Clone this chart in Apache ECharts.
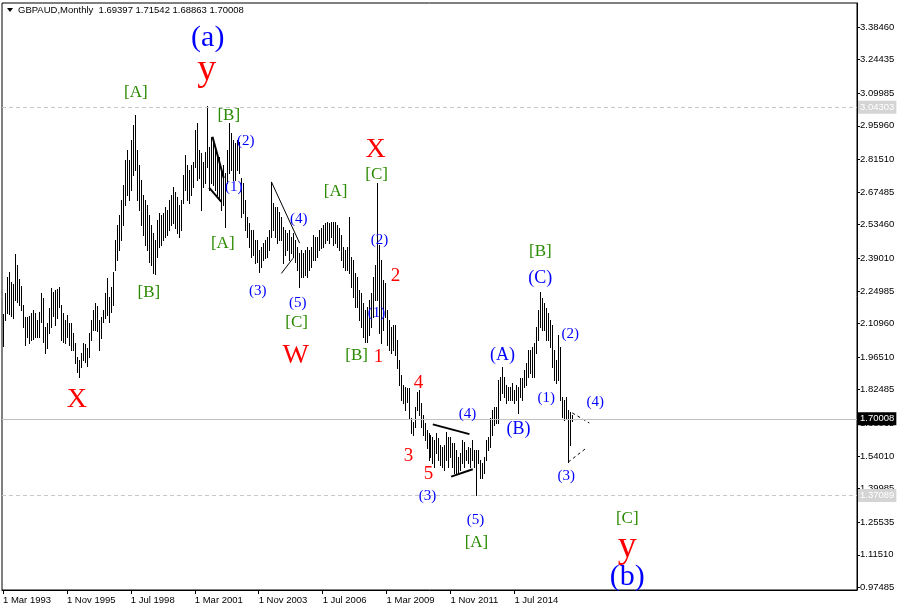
<!DOCTYPE html>
<html><head><meta charset="utf-8">
<script src="https://cdn.jsdelivr.net/npm/echarts@6/dist/echarts.min.js"></script>
<style>html,body{margin:0;padding:0;background:#fff}#c{width:900px;height:611px}</style>
</head><body><div id="c"></div>
<script>
// ---- data: GBPAUD monthly bars, first bar = Mar 1993 ----
const symbolName = 'GBPAUD,Monthly';
const lastOHLC = [1.69397, 1.71542, 1.68863, 1.70008];
const highs = [
2.151,2.241,2.310,2.331,2.288,2.280,2.409,2.361,2.301,2.271,
2.189,2.138,2.138,2.142,2.155,2.168,2.155,2.125,2.159,2.241,
2.219,2.095,2.112,2.176,2.262,2.245,2.254,2.258,2.267,2.189,
2.155,2.125,2.146,2.112,2.112,2.069,2.026,1.966,1.953,1.983,
2.026,2.022,2.004,2.069,2.125,2.168,2.198,2.185,2.125,2.138,
2.168,2.241,2.305,2.224,2.267,2.331,2.469,2.533,2.576,2.641,
2.705,2.813,2.856,2.813,2.899,2.963,3.006,2.856,2.791,2.727,
2.662,2.641,2.619,2.576,2.533,2.499,2.469,2.555,2.585,2.576,
2.585,2.611,2.598,2.641,2.662,2.697,2.675,2.654,2.619,2.641,
2.748,2.834,2.791,2.770,2.791,2.804,2.942,2.972,2.856,2.843,
2.804,2.847,3.04303,2.869,2.912,2.899,2.856,2.834,2.826,2.770,
2.791,2.757,2.856,2.972,2.929,2.899,2.886,2.899,2.890,2.735,
2.714,2.641,2.568,2.542,2.512,2.512,2.469,2.469,2.426,2.439,
2.456,2.469,2.482,2.512,2.718,2.628,2.611,2.611,2.589,2.568,
2.525,2.512,2.499,2.512,2.482,2.499,2.469,2.439,2.413,2.426,
2.413,2.426,2.439,2.426,2.439,2.490,2.482,2.482,2.512,2.520,
2.533,2.542,2.546,2.542,2.546,2.546,2.546,2.533,2.520,2.490,
2.439,2.426,2.439,2.568,2.396,2.383,2.327,2.310,2.254,2.241,
2.198,2.168,2.181,2.211,2.241,2.310,2.361,2.714,2.447,2.383,
2.297,2.284,2.168,2.125,2.095,2.103,2.103,2.039,1.953,1.888,
1.845,1.837,1.832,1.832,1.703,1.686,1.751,1.815,1.824,1.768,
1.716,1.682,1.652,1.639,1.630,1.622,1.609,1.639,1.617,1.587,
1.579,1.587,1.643,1.622,1.622,1.596,1.596,1.566,1.536,1.553,
1.609,1.600,1.566,1.579,1.574,1.609,1.566,1.566,1.566,1.523,
1.510,1.536,1.609,1.622,1.703,1.738,1.751,1.751,1.867,1.880,
1.923,1.880,1.845,1.837,1.837,1.854,1.824,1.845,1.837,1.875,
1.875,1.910,1.940,1.996,1.996,2.009,2.026,2.095,2.168,2.245,
2.219,2.198,2.176,2.155,2.125,2.103,1.996,1.953,2.060,2.009,
1.794,1.781,1.794,1.738,1.729,1.71542
];
const lows = [
2.013,2.125,2.155,2.151,2.142,2.133,2.211,2.202,2.189,2.168,
2.095,2.017,2.052,2.026,2.039,2.043,2.052,2.052,2.052,2.116,
2.030,1.983,2.004,2.069,2.095,2.142,2.103,2.133,2.181,2.039,
2.030,2.026,2.052,2.017,1.996,1.996,1.940,1.901,1.880,1.923,
1.953,1.944,1.927,1.966,2.039,2.082,2.082,2.077,1.996,2.047,
2.116,2.133,2.146,2.116,2.159,2.189,2.340,2.383,2.426,2.469,
2.533,2.619,2.662,2.641,2.684,2.748,2.770,2.641,2.598,2.533,
2.490,2.447,2.426,2.374,2.361,2.327,2.323,2.396,2.439,2.447,
2.469,2.482,2.490,2.512,2.533,2.542,2.520,2.499,2.482,2.512,
2.628,2.684,2.641,2.628,2.662,2.697,2.783,2.727,2.735,2.598,
2.697,2.714,2.783,2.684,2.714,2.705,2.684,2.662,2.641,2.598,
2.619,2.525,2.714,2.757,2.770,2.727,2.727,2.770,2.757,2.568,
2.585,2.512,2.482,2.439,2.396,2.404,2.370,2.374,2.331,2.353,
2.383,2.391,2.396,2.426,2.482,2.512,2.482,2.456,2.469,2.469,
2.370,2.404,2.426,2.383,2.413,2.396,2.374,2.340,2.267,2.310,
2.310,2.318,2.310,2.340,2.353,2.383,2.383,2.396,2.426,2.434,
2.439,2.456,2.469,2.456,2.482,2.447,2.456,2.439,2.426,2.383,
2.353,2.340,2.340,2.327,2.267,2.224,2.181,2.181,2.125,2.095,
2.052,2.030,2.030,2.060,2.095,2.138,2.211,2.211,2.069,2.026,
2.082,2.138,2.017,1.996,1.983,1.996,1.974,1.918,1.845,1.781,
1.768,1.738,1.772,1.703,1.639,1.630,1.665,1.738,1.716,1.665,
1.630,1.609,1.574,1.523,1.536,1.510,1.493,1.553,1.523,1.501,
1.493,1.480,1.523,1.493,1.536,1.493,1.467,1.467,1.467,1.480,
1.510,1.493,1.523,1.510,1.493,1.523,1.493,1.37089,1.510,1.445,
1.445,1.467,1.523,1.566,1.579,1.630,1.673,1.682,1.682,1.781,
1.811,1.794,1.768,1.781,1.781,1.781,1.768,1.781,1.725,1.794,
1.781,1.837,1.845,1.880,1.897,1.880,1.880,1.983,2.039,2.095,
2.082,2.082,2.039,2.039,2.009,1.923,1.867,1.854,1.867,1.781,
1.708,1.695,1.703,1.514,1.587,1.68863
];
const xTickIdx = [0,32,64,96,128,160,192,224,256];
const xTickLabels = ['1 Mar 1993','1 Nov 1995','1 Jul 1998','1 Mar 2001','1 Nov 2003','1 Jul 2006','1 Mar 2009','1 Nov 2011','1 Jul 2014'];
const yTicks = [0.97485,1.11510,1.25535,1.39985,1.54010,1.68035,1.82485,1.96510,2.10960,2.24985,2.39010,2.53460,2.67485,2.81510,2.95960,3.09985,3.24435,3.38460];
const levelHigh = 3.04303, levelLow = 1.37089, lastPrice = 1.70008;
// wave labels: [bar index, price, text, kind]
const waveLabels = [
 [102.5,3.337,'(a)','blueBig'], [102,3.200,'y','redY'],
 [66.5,3.101,'[A]','green'], [113,3.006,'[B]','green'],
 [121.5,2.894,'(2)','blue'], [115.5,2.697,'(1)','blue'], [110,2.452,'[A]','green'],
 [148,2.559,'(4)','blue'], [127.5,2.249,'(3)','blue'], [147.5,2.198,'(5)','blue'],
 [147,2.112,'[C]','green'], [146.5,1.970,'W','redBig'], [73,2.241,'[B]','green'],
 [37,1.781,'X','redBig'], [166.5,2.675,'[A]','green'], [186.5,2.856,'X','redBig'],
 [187,2.752,'[C]','green'], [188.5,2.469,'(2)','blue'], [196.5,2.314,'2','red'],
 [187,2.155,'(1)','blue'], [188,1.966,'1','red'], [177,1.974,'[B]','green'],
 [208,1.854,'4','red'], [203,1.540,'3','red'], [213,1.462,'5','red'],
 [212.5,1.368,'(3)','blue'], [232.5,1.721,'(4)','blue'], [236.5,1.265,'(5)','blue'],
 [237,1.166,'[A]','green'], [250,1.974,'(A)','blueMid'], [258,1.656,'(B)','blueMid'],
 [269,2.417,'[B]','green'], [269,2.305,'(C)','blueMid'], [284,2.065,'(2)','blue'],
 [272,1.789,'(1)','blue'], [296.5,1.772,'(4)','blue'], [282,1.454,'(3)','blue'],
 [312.5,1.273,'[C]','green'], [312.5,1.148,'y','redY'], [312.5,1.020,'(b)','blueBig']
];
const trendBold = [
 [[104.85,2.913],[110.5,2.735]], [[103.15,2.694],[109.35,2.633]],
 [[215.15,1.676],[233.5,1.634]], [[224.35,1.451],[235.15,1.483]]
];
const trendThin = [ [[134.35,2.719],[148.5,2.455]], [[139.35,2.325],[145.15,2.390]] ];
const trendDashed = [ [[285,1.725],[293.5,1.682]], [[283,1.514],[292,1.574]] ];

const kinds = {
 blue:{size:15,color:'#0000ff'}, blueMid:{size:18,color:'#0000ff'}, blueBig:{size:30,color:'#0000ff'},
 green:{size:17,color:'#2a8a00'}, red:{size:19,color:'#ff0000'}, redBig:{size:28,color:'#ff0000'},
 redY:{size:38,color:'#ff0000'}
};
const serif = '"Liberation Serif","Times New Roman",serif';
const sans = '"Liberation Sans",Arial,sans-serif';

const chart = echarts.init(document.getElementById('c'), null, {renderer:'canvas'});
const bars = highs.map((h,i)=>[i,h,lows[i]]);
const fmt = v => v.toFixed(5);

chart.setOption({
 animation:false,
 backgroundColor:'#fff',
 grid:{left:2, right:43, top:3, bottom:21, show:true, borderColor:'#000', borderWidth:1, backgroundColor:'transparent'},
 xAxis:{type:'value', min:-0.5, max:427.5,
   axisLine:{show:true, onZero:false, lineStyle:{color:'#000'}}, splitLine:{show:false},
   axisTick:{show:true, customValues:xTickIdx, length:4, lineStyle:{color:'#000'}},
   axisLabel:{customValues:xTickIdx, align:'left', margin:5, color:'#000', fontFamily:sans, fontSize:9.5,
     formatter:v=>xTickLabels[xTickIdx.indexOf(Math.round(v))]||''}},
 yAxis:{type:'value', position:'right', min:0.9637, max:3.4878, scale:true,
   axisLine:{show:true, onZero:false, lineStyle:{color:'#000'}}, splitLine:{show:false},
   axisTick:{show:true, customValues:yTicks, length:3, lineStyle:{color:'#000'}},
   axisLabel:{customValues:yTicks, margin:3, color:'#000', fontFamily:sans, fontSize:9.5, formatter:fmt}},
 graphic:[
   {type:'polygon', shape:{points:[[7,8],[13,8],[10,12]]}, style:{fill:'#000'}},
   {type:'text', x:18, y:10, style:{text:symbolName+'  '+lastOHLC.map(fmt).join(' '), font:'9.5px '+sans, fill:'#000', verticalAlign:'middle'}}
 ],
 series:[
  {type:'custom', data:bars, encode:{x:0,y:[1,2]}, clip:true,
   renderItem:(p,api)=>{
     const a=api.coord([api.value(0),api.value(1)]), b=api.coord([api.value(0),api.value(2)]);
     const x=Math.round(a[0])+0.5;
     return {type:'line', shape:{x1:x,y1:Math.round(a[1]),x2:x,y2:Math.round(b[1])+1}, style:{stroke:'#000',lineWidth:1}};
   },
   markLine:{silent:true, symbol:'none', animation:false,
     data:[
      {yAxis:levelHigh, lineStyle:{type:[4,3],color:'#c8c8c8',width:1},
       label:{formatter:fmt(levelHigh), backgroundColor:'#d4d4d4', color:'#fff'}},
      {yAxis:levelLow, lineStyle:{type:[4,3],color:'#c8c8c8',width:1},
       label:{formatter:fmt(levelLow), backgroundColor:'#d4d4d4', color:'#fff'}},
      {yAxis:lastPrice, lineStyle:{type:'solid',color:'#c0c0c0',width:1},
       label:{formatter:fmt(lastPrice), backgroundColor:'#000', color:'#fff'}}
     ],
     label:{position:'end', distance:1, padding:[2,2,1,2], fontFamily:sans, fontSize:9.5}
   }},
  {type:'lines', coordinateSystem:'cartesian2d', silent:true, data:trendBold.map(c=>({coords:c})), lineStyle:{color:'#000',width:2,opacity:1}},
  {type:'lines', coordinateSystem:'cartesian2d', silent:true, data:trendThin.map(c=>({coords:c})), lineStyle:{color:'#000',width:1,opacity:1}},
  {type:'lines', coordinateSystem:'cartesian2d', silent:true, data:trendDashed.map(c=>({coords:c})), lineStyle:{color:'#000',width:1,type:[3,3],opacity:1}},
  {type:'custom', data:waveLabels.map(w=>[w[0],w[1]]), clip:false, z:5,
   renderItem:(p,api)=>{
     const w=waveLabels[p.dataIndex], k=kinds[w[3]];
     const c=api.coord([w[0],w[1]]);
     return {type:'text', x:c[0], y:c[1], style:{text:w[2], fill:k.color, font:k.size+'px '+serif, align:'center', verticalAlign:'middle'}};
   }}
 ]
});
</script></body></html>
